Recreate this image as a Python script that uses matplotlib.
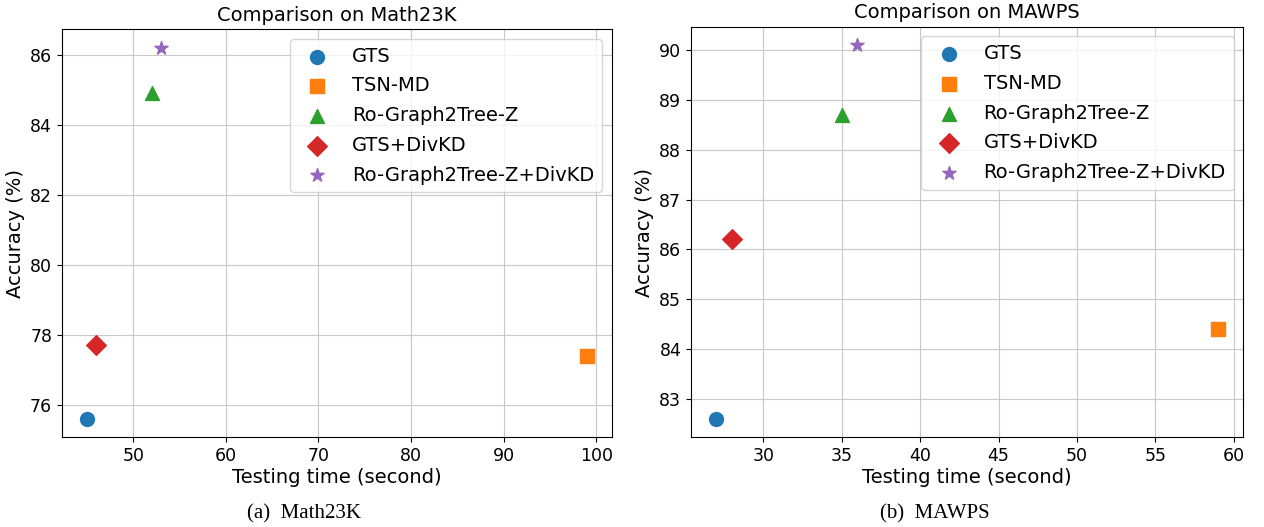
import matplotlib.pyplot as plt

methods = ["GTS", "TSN-MD", "Ro-Graph2Tree-Z", "GTS+DivKD", "Ro-Graph2Tree-Z+DivKD"]
markers = ["o", "s", "^", "D", "*"]
colors = ["tab:blue", "tab:orange", "tab:green", "tab:red", "tab:purple"]

# Math23K: testing time (s) and accuracy (%)
math_time = [45, 99, 52, 46, 53]
math_acc = [75.6, 77.4, 84.9, 77.7, 86.2]

# MAWPS
mawps_time = [27, 59, 35, 28, 36]
mawps_acc = [82.6, 84.4, 88.7, 86.2, 90.1]

fig = plt.figure(figsize=(12.64, 5.27), dpi=100)
ax1 = fig.add_axes([0.049, 0.1702, 0.4352, 0.7742])
ax2 = fig.add_axes([0.5467, 0.1702, 0.4369, 0.7791])

# sub-figure captions sit under each panel (centred on the whole panel incl. y label)
panels = [
    (ax1, math_time, math_acc, "Comparison on Math23K", "(a)  Math23K", 0.2405),
    (ax2, mawps_time, mawps_acc, "Comparison on MAWPS", "(b)  MAWPS", 0.7397),
]
for ax, xs, ys, title, caption, cx in panels:
    for i, m in enumerate(methods):
        ax.scatter(xs[i], ys[i], s=100, marker=markers[i], c=colors[i], label=m, zorder=3)
    ax.set_title(title, fontsize=14)
    ax.set_xlabel("Testing time (second)", fontsize=14, labelpad=2)
    ax.set_ylabel("Accuracy (%)", fontsize=14, labelpad=4)
    ax.tick_params(labelsize=12.5)
    ax.grid(True, color="#c8c8c8", zorder=0)
    ax.set_axisbelow(True)
    ax.legend(loc="upper right", fontsize=14, labelspacing=0.55)
    fig.text(cx, 0.024, caption, ha="center", va="center",
             family="Liberation Serif", fontsize=15)

plt.savefig("out.png", dpi=100)
